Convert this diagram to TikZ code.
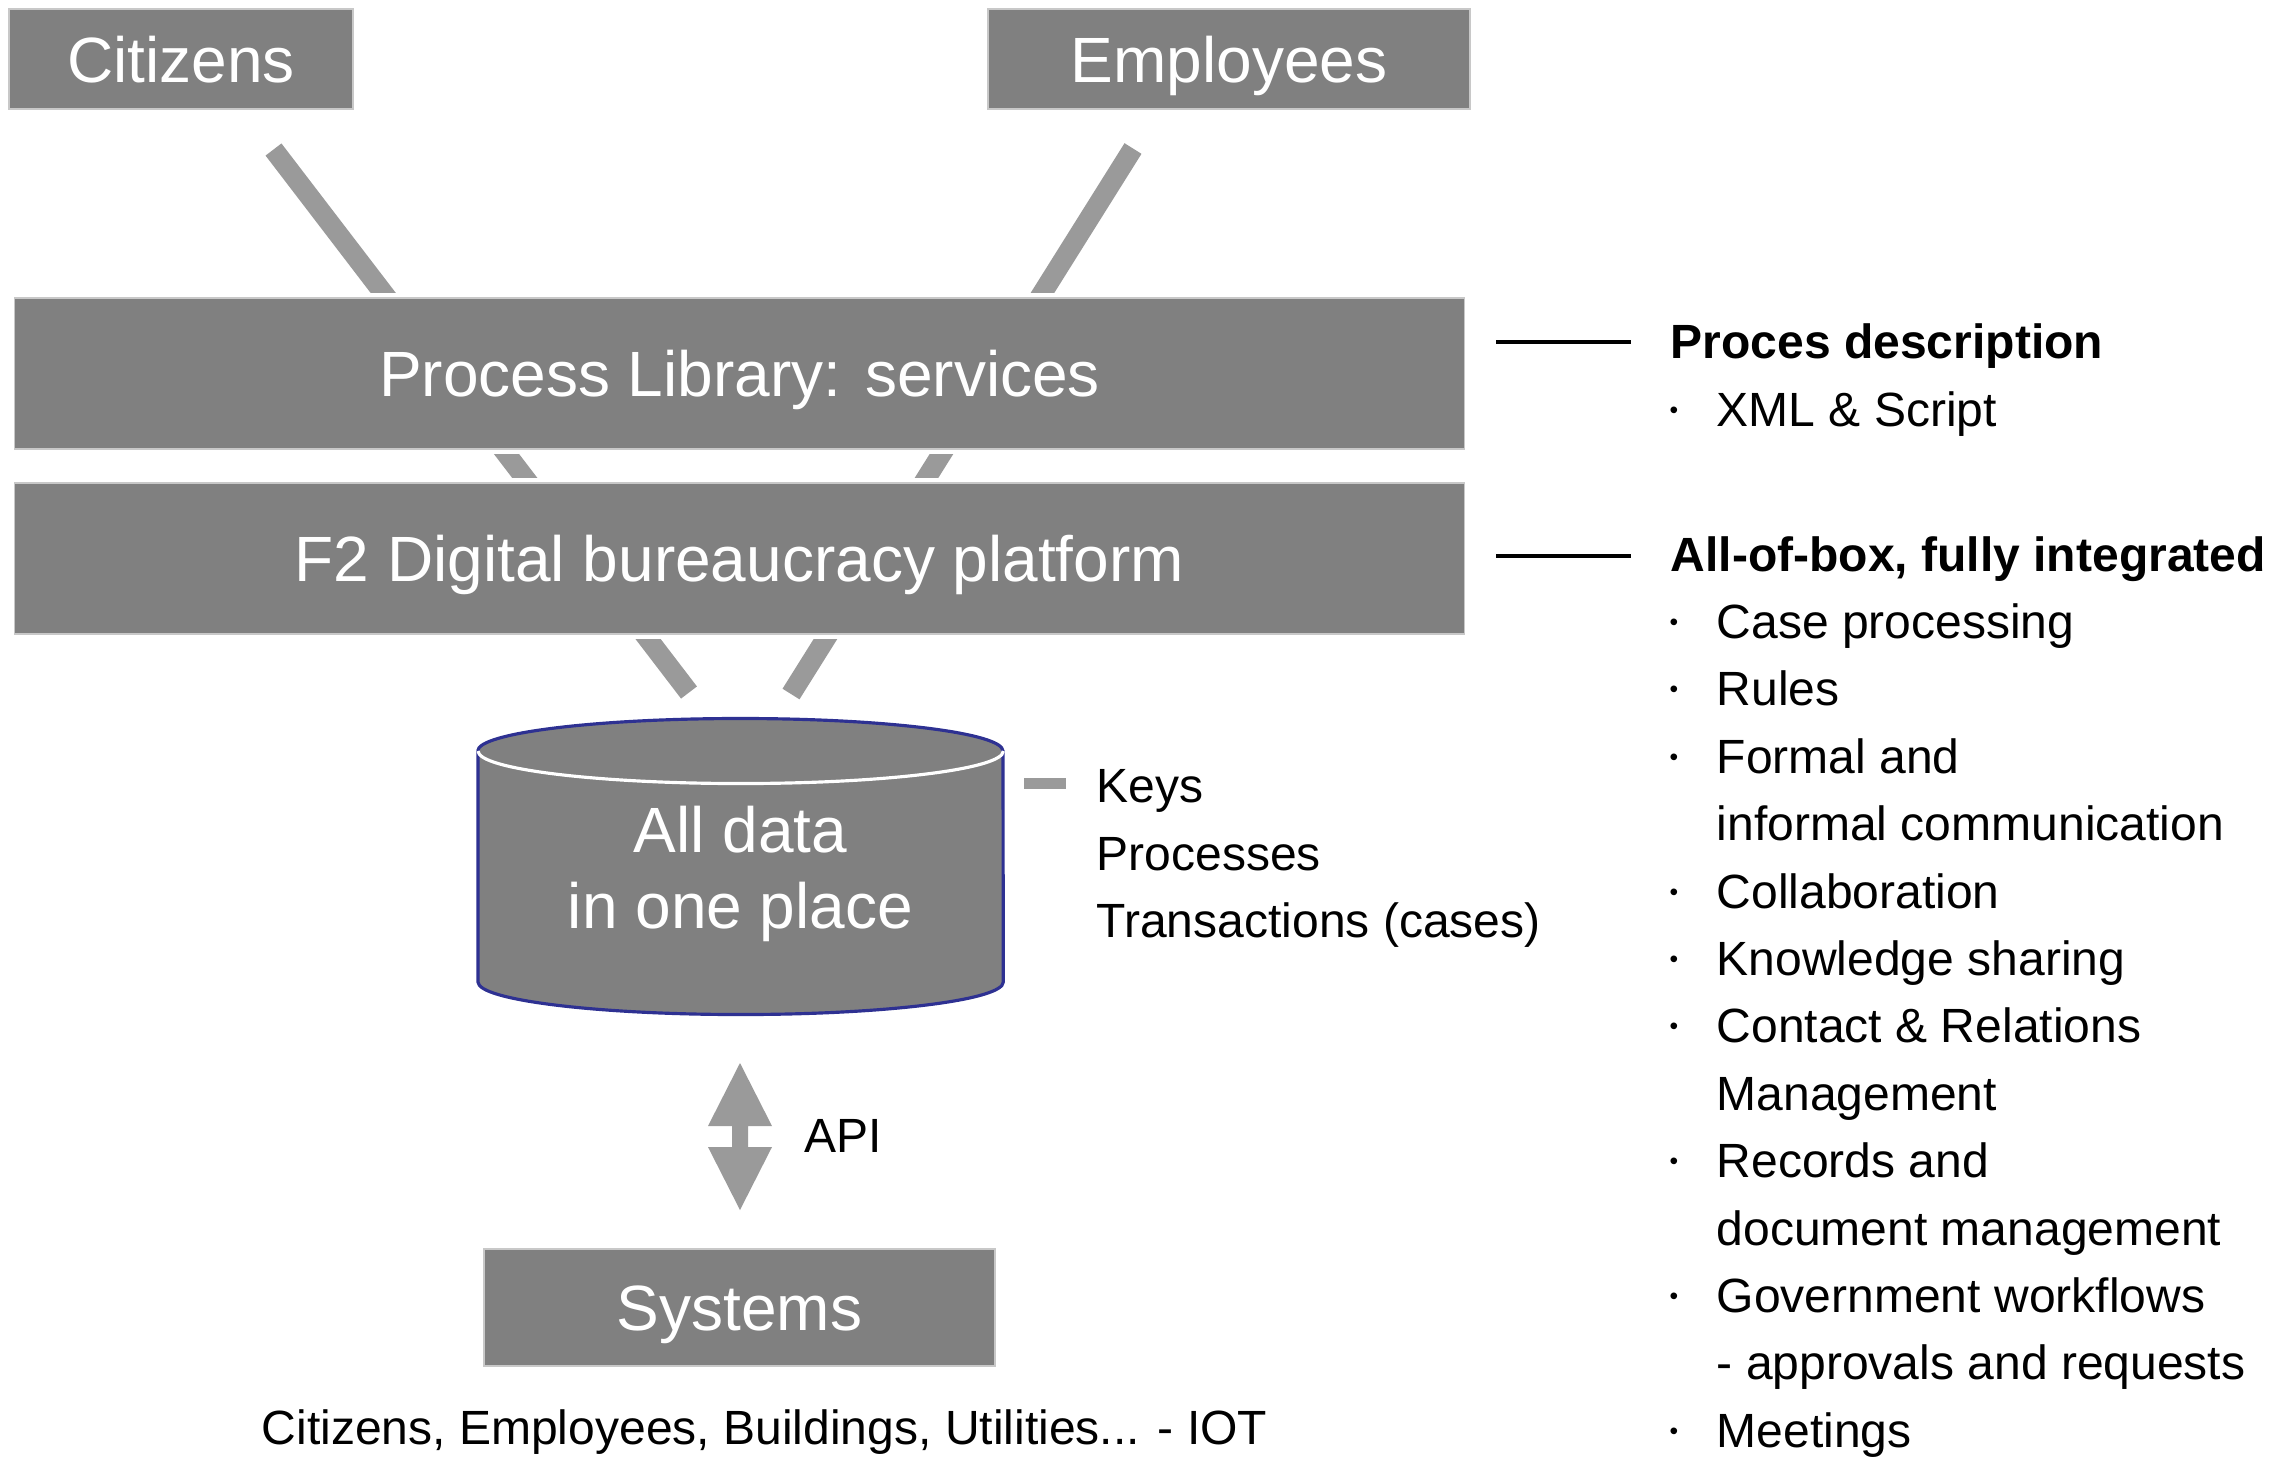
\documentclass[tikz,border=0pt]{standalone}
\usepackage{fontspec}
\setmainfont{Liberation Sans}
\definecolor{boxgray}{HTML}{808080}
\definecolor{bargray}{HTML}{9A9A9A}
\definecolor{boxline}{HTML}{C8C8C8}
\definecolor{navy}{HTML}{2E3192}
\begin{document}
\begin{tikzpicture}[x=0.01cm,y=0.01cm,
  box/.style={fill=boxgray, draw=boxline, line width=0.4pt,
    preaction={draw=white, line width=0.1cm}, inner sep=0pt,
    text=white, font=\fontsize{18.2}{22}\selectfont,
    text height=13.1pt, text depth=0pt},
  bar/.style={draw=bargray, line width=0.2cm, line cap=butt},
  txt/.style={font=\fontsize{13.66}{16}\selectfont, inner sep=0pt, anchor=base west},
  hdr/.style={txt, font=\fontsize{13.66}{16}\selectfont\bfseries},
  bul/.style={font=\fontsize{7}{8}\selectfont, inner sep=0pt, anchor=base},
  wtxt/.style={text=white, font=\fontsize{18.2}{22}\selectfont, inner sep=0pt, anchor=base},
  rule/.style={draw=black, line width=0.04cm}
]
\useasboundingbox (0,0) rectangle (2277,-1456);
\fill[white] (0,0) rectangle (2277,-1456);

% connector bars (behind boxes)
\coordinate (la) at (273.5,-149.5);
\coordinate (lb) at (689,-692.5);
\coordinate (ra) at (1133,-148.5);
\coordinate (rb) at (791,-694);
\draw[bar] (la) -- (lb);
\draw[bar] (ra) -- (rb);

% boxes
\node[box, minimum width=3.44cm, minimum height=1.0cm] (cit) at (181,-59) {Citizens};
\node[box, minimum width=4.82cm, minimum height=1.0cm] (emp) at (1229,-59) {Employees};
\node[box, minimum width=14.49cm, minimum height=1.51cm] (pl) at (739.5,-373.5) {Process Library: services};
\node[box, minimum width=14.49cm, minimum height=1.51cm] (f2) at (739.5,-558.5) {F2 Digital bureaucracy platform};
\node[box, minimum width=5.11cm, minimum height=1.17cm] (sys) at (739.5,-1307.5) {Systems};

% cylinder
\coordinate (db) at (740.5,-866);
\fill[boxgray] (478,-751) -- (478,-982)
  arc[start angle=180, end angle=360, x radius=2.625cm, y radius=0.325cm]
  -- (1003,-751)
  arc[start angle=0, end angle=180, x radius=2.625cm, y radius=0.325cm] -- cycle;
\draw[navy, line width=0.9pt] (478,-751) -- (478,-982)
  arc[start angle=180, end angle=360, x radius=2.625cm, y radius=0.325cm]
  -- (1003,-751)
  arc[start angle=0, end angle=180, x radius=2.625cm, y radius=0.325cm];
\draw[white, line width=0.9pt] (478,-751)
  arc[start angle=180, end angle=360, x radius=2.625cm, y radius=0.325cm];
\node[wtxt] (dbA) at (740.5,-852) {All data};
\node[wtxt] (dbB) at (740.5,-928) {in one place};

% keys
\coordinate (ka) at (1024,-783);
\coordinate (kb) at (1066,-783);
\draw[draw=bargray, line width=0.11cm] (ka) -- (kb);
\node[txt] (keys) at (1096,-802) {Keys};
\node[txt] (procs) at (1096,-870) {Processes};
\node[txt] (trans) at (1096,-937) {Transactions (cases)};

% API arrow
\fill[bargray] (740,-1063) -- (772,-1126) -- (748,-1126) -- (748,-1147) -- (772,-1147)
  -- (740,-1210) -- (708,-1147) -- (732,-1147) -- (732,-1126) -- (708,-1126) -- cycle;
\node[txt] (api) at (804,-1152) {API};

% bottom text
\node[txt] (iot) at (261,-1444) {Citizens, Employees, Buildings, Utilities... - IOT};

% right side
\coordinate (r1a) at (1496,-342);
\coordinate (r1b) at (1631,-342);
\coordinate (r2a) at (1496,-556);
\coordinate (r2b) at (1631,-556);
\draw[rule] (r1a) -- (r1b);
\draw[rule] (r2a) -- (r2b);

\node[hdr] (h1) at (1670,-358) {Proces description};
\node[bul] (b1) at (1674,-418) {•};
\node[txt] (t1) at (1716,-426) {XML \& Script};

\node[hdr] (h2) at (1670,-571) {All-of-box, fully integrated};
\node[bul] (b2) at (1674,-630.4) {•};
\node[txt] (t2) at (1716,-638.4) {Case processing};
\node[bul] (b3) at (1674,-697.8) {•};
\node[txt] (t3) at (1716,-705.8) {Rules};
\node[bul] (b4) at (1674,-765.2) {•};
\node[txt] (t4) at (1716,-773.2) {Formal and};
\node[txt] (t4b) at (1716,-840.6) {informal communication};
\node[bul] (b5) at (1674,-900) {•};
\node[txt] (t5) at (1716,-908) {Collaboration};
\node[bul] (b6) at (1674,-967.4) {•};
\node[txt] (t6) at (1716,-975.4) {Knowledge sharing};
\node[bul] (b7) at (1674,-1034.8) {•};
\node[txt] (t7) at (1716,-1042.8) {Contact \& Relations};
\node[txt] (t7b) at (1716,-1110.2) {Management};
\node[bul] (b8) at (1674,-1169.6) {•};
\node[txt] (t8) at (1716,-1177.6) {Records and};
\node[txt] (t8b) at (1716,-1245) {document management};
\node[bul] (b9) at (1674,-1304.4) {•};
\node[txt] (t9) at (1716,-1312.4) {Government workflows};
\node[txt] (t9b) at (1716,-1379.8) {- approvals and requests};
\node[bul] (b10) at (1674,-1439.2) {•};
\node[txt] (t10) at (1716,-1447.2) {Meetings};
\end{tikzpicture}
\end{document}
